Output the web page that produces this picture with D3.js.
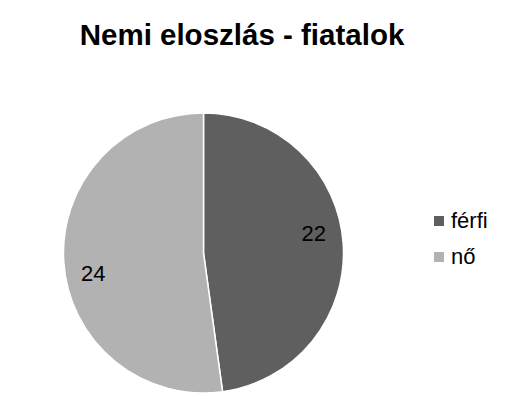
<!DOCTYPE html>
<html>
<head>
<meta charset="utf-8">
<script src="https://cdn.jsdelivr.net/npm/d3@7"></script>
<style>
  body { margin: 0; background: #fff; }
  text { font-family: "Liberation Sans", Arial, sans-serif; }
</style>
</head>
<body>
<svg id="chart" width="515" height="410"></svg>
<script>
const categories = ["férfi", "nő"];
const values = [22, 24];
const colors = ["#5f5f5f", "#b2b2b2"];
const title = "Nemi eloszlás - fiatalok";

const svg = d3.select("#chart");
const cx = 203.5, cy = 253, r = 140;

svg.append("text")
    .attr("x", 242).attr("y", 45)
    .attr("text-anchor", "middle")
    .attr("font-size", 29.5).attr("font-weight", "bold")
    .attr("fill", "#000")
    .text(title);

let pie = d3.pie().sort(null).value(d => d);
let arcs = pie(values);
let arc = d3.arc().innerRadius(0).outerRadius(r);
let g = svg.append("g").attr("transform", "translate(" + cx + "," + cy + ")");

g.selectAll("path").data(arcs)
    .join("path")
    .attr("d", arc)
    .attr("fill", (d, i) => colors[i])
    .attr("stroke", "#fff")
    .attr("stroke-width", 1.5);

// labels sit a bit counter-clockwise of the slice middle, like the original
let labelArc = d3.arc().innerRadius(112).outerRadius(112);
g.selectAll("text.lbl").data(arcs)
    .join("text")
    .attr("class", "lbl")
    .attr("transform", d => {
        let c = labelArc.centroid({startAngle: d.startAngle - 0.11, endAngle: d.endAngle - 0.11});
        return "translate(" + c + ")";
    })
    .attr("text-anchor", "middle")
    .attr("dy", "0.35em")
    .attr("font-size", 22)
    .attr("fill", "#000")
    .text(d => d.data);

let leg = svg.append("g").attr("transform", "translate(434,216)");
let items = leg.selectAll("g").data(categories)
    .join("g").attr("transform", (d, i) => "translate(0," + i * 36 + ")");
items.append("rect")
    .attr("width", 10).attr("height", 10)
    .attr("fill", (d, i) => colors[i]);
items.append("text")
    .attr("x", 17).attr("y", 12)
    .attr("font-size", 22)
    .attr("fill", "#000")
    .text(d => d);
</script>
</body>
</html>
